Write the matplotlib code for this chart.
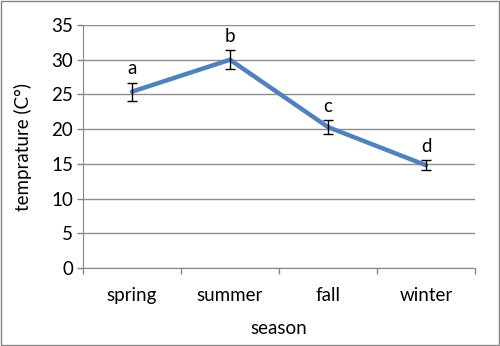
import numpy as np
import matplotlib.pyplot as plt
from matplotlib.patches import Rectangle

seasons = ['spring', 'summer', 'fall', 'winter']
temps = [25.4, 30.0, 20.3, 14.8]
errs = [1.3, 1.4, 1.0, 0.7]
letters = ['a', 'b', 'c', 'd']

plt.rcParams['font.family'] = ['Lato', 'DejaVu Sans']
fs = 13.5

fig = plt.figure(figsize=(5, 3.46), dpi=100)
ax = fig.add_axes([0.166, 0.2254, 0.784, 0.7023])
x = np.arange(len(seasons))

ax.plot(x, temps, color='#4F81BD', lw=3.2, solid_capstyle='round', zorder=3)
ax.errorbar(x, temps, yerr=errs, fmt='none', ecolor='black', elinewidth=1,
            capsize=3.5, capthick=1, zorder=4)
for xi, t, e, s in zip(x, temps, errs, letters):
    ax.annotate(s, (xi, t + e), xytext=(0, 6), textcoords='offset points',
                ha='center', va='baseline', fontsize=fs)

ax.set_xlim(-0.5, len(seasons) - 0.5)
ax.set_ylim(0, 35)
ax.set_yticks(range(0, 36, 5))
ax.set_xticks(x)
ax.set_xticklabels(seasons, fontsize=fs)
ax.set_xticks(np.arange(-0.5, len(seasons)), minor=True)
ax.tick_params(axis='x', which='major', length=0, pad=14)
ax.tick_params(axis='x', which='minor', length=4, color='#868686', width=1)
ax.tick_params(axis='y', length=4, color='#868686', width=1, labelsize=fs, pad=3)
ax.grid(axis='y', color='#8c8c8c', lw=1)
ax.set_axisbelow(True)
for sp in ['top', 'right']:
    ax.spines[sp].set_visible(False)
for sp in ['left', 'bottom']:
    ax.spines[sp].set_color('#868686')
ax.set_xlabel('season', fontsize=fs, labelpad=11)
ax.set_ylabel('temprature (C°)', fontsize=fs, labelpad=14)

fig.patches.append(Rectangle((0.002, 0.003), 0.996, 0.994, transform=fig.transFigure,
                             fill=False, edgecolor='#868686', lw=1))
fig.savefig('out.png', dpi=100)
